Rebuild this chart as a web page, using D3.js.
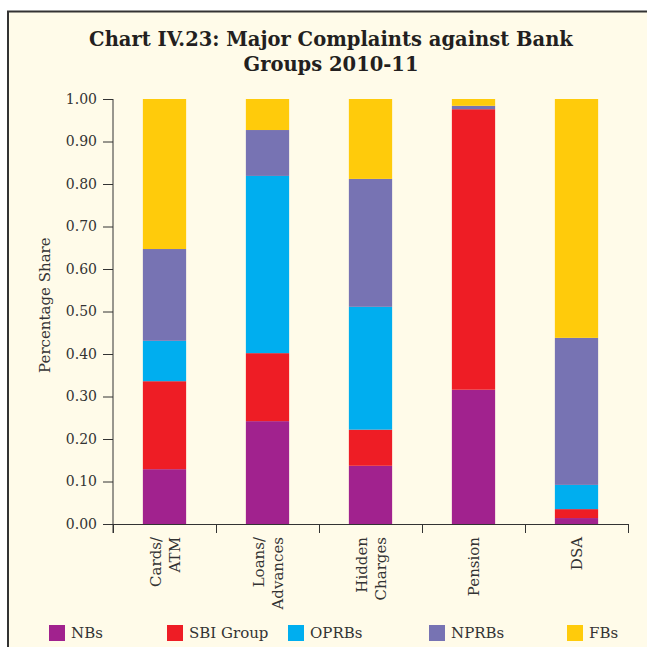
<!DOCTYPE html>
<html>
<head>
<meta charset="utf-8">
<script src="https://cdn.jsdelivr.net/npm/d3@7"></script>
<style>
  html, body { margin: 0; padding: 0; background: #fff; }
  svg { display: block; }
  text { font-family: "DejaVu Serif", serif; fill: #333; }
</style>
</head>
<body>
<div id="chart"></div>
<script>
// categories (two-line labels split with |)
var categories = ['Cards/|ATM', 'Loans/|Advances', 'Hidden|Charges', 'Pension', 'DSA'];

// share of complaints by bank group
var nbs      = [0.129, 0.242, 0.137, 0.316, 0.014];
var sbi      = [0.207, 0.160, 0.085, 0.660, 0.021];
var oprbs    = [0.095, 0.417, 0.289, 0.000, 0.057];
var nprbs    = [0.216, 0.108, 0.301, 0.008, 0.346];
var fbs      = [0.353, 0.073, 0.188, 0.016, 0.562];

var seriesNames = ['NBs', 'SBI Group', 'OPRBs', 'NPRBs', 'FBs'];
var seriesColors = ['#a1228e', '#ee1d25', '#00aeef', '#7773b3', '#ffcb0b'];

var yTicks = [0, 0.1, 0.2, 0.3, 0.4, 0.5, 0.6, 0.7, 0.8, 0.9, 1.0];

var width = 647, height = 647;
var pad = { left: 113, right: 19, top: 99, bottom: 123 };

var svg = d3.select('#chart')
  .append('svg')
  .attr('width', width)
  .attr('height', height);

// frame
svg.append('rect')
  .attr('x', 8)
  .attr('y', 11.5)
  .attr('width', 700)
  .attr('height', 700)
  .attr('fill', '#fffbe9')
  .attr('stroke', '#333')
  .attr('stroke-width', 2);

// title
var title = svg.append('text')
  .attr('text-anchor', 'middle')
  .style('font-weight', 'bold')
  .style('font-size', '19.5px')
  .style('fill', '#231f20');
title.append('tspan').attr('x', 331).attr('y', 46).text('Chart IV.23: Major Complaints against Bank');
title.append('tspan').attr('x', 331).attr('y', 71).text('Groups 2010-11');

var table = categories.map(function(c, i){
  return { cat: c, NBs: nbs[i], 'SBI Group': sbi[i], OPRBs: oprbs[i], NPRBs: nprbs[i], FBs: fbs[i] };
});

var x_scale = d3.scaleBand()
  .domain(categories)
  .range([pad.left, width - pad.right])
  .paddingInner(0.58)
  .paddingOuter(0.29);

var y_scale = d3.scaleLinear()
  .domain([0, 1])
  .range([height - pad.bottom, pad.top]);

var color = d3.scaleOrdinal().domain(seriesNames).range(seriesColors);

var stacked = d3.stack().keys(seriesNames)(table);

svg.append('g')
  .selectAll('g')
  .data(stacked)
  .enter()
  .append('g')
  .attr('fill', function(d){ return color(d.key); })
  .selectAll('rect')
  .data(function(d){ return d; })
  .enter()
  .append('rect')
  .attr('x', function(d){ return x_scale(d.data.cat); })
  .attr('width', x_scale.bandwidth())
  .attr('y', function(d){ return y_scale(d[1]); })
  .attr('height', function(d){ return y_scale(d[0]) - y_scale(d[1]); });

// y axis
var yAxis = svg.append('g')
  .attr('transform', 'translate(' + pad.left + ',0)')
  .call(d3.axisLeft(y_scale).tickValues(yTicks).tickFormat(d3.format('.2f')).tickSize(10).tickPadding(6));
yAxis.select('.domain').remove();
yAxis.append('line')
  .attr('x1', 0).attr('x2', 0)
  .attr('y1', y_scale(1)).attr('y2', y_scale(0) + 9)
  .attr('stroke', '#333');
yAxis.selectAll('.tick line').attr('stroke', '#333');
yAxis.selectAll('.tick text')
  .style('font-family', '"DejaVu Serif", serif')
  .style('font-size', '14px')
  .style('fill', '#333');

// x axis: ticks at category boundaries
var edge_scale = d3.scaleLinear()
  .domain([0, categories.length])
  .range([pad.left, width - pad.right]);

var xAxis = svg.append('g')
  .attr('transform', 'translate(0,' + y_scale(0) + ')')
  .call(d3.axisBottom(edge_scale).tickValues(d3.range(categories.length + 1)).tickFormat('').tickSize(9).tickSizeOuter(0));
xAxis.selectAll('line, path').attr('stroke', '#333');

var labels = svg.append('g')
  .selectAll('text')
  .data(categories)
  .enter()
  .append('text')
  .attr('text-anchor', 'end')
  .style('font-size', '15px')
  .attr('transform', function(d){
    return 'translate(' + (x_scale(d) + x_scale.bandwidth() / 2) + ',' + (y_scale(0) + 13) + ') rotate(-90)';
  });

labels.each(function(d){
  var lines = d.split('|');
  var el = d3.select(this);
  lines.forEach(function(line, i){
    var off = (i - (lines.length - 1) / 2) * 19 + 5.5;
    el.append('tspan').attr('x', 0).attr('y', off).text(line);
  });
});

// y axis title
svg.append('text')
  .attr('text-anchor', 'middle')
  .style('font-size', '15px')
  .attr('transform', 'translate(50,' + y_scale(0.515) + ') rotate(-90)')
  .text('Percentage Share');

// legend
var legendX = [49, 167, 288, 429, 567];
var legend = svg.append('g')
  .selectAll('g')
  .data(seriesNames)
  .enter()
  .append('g')
  .attr('transform', function(d, i){ return 'translate(' + legendX[i] + ',625)'; });

legend.append('rect')
  .attr('width', 16)
  .attr('height', 16)
  .attr('fill', function(d){ return color(d); });

legend.append('text')
  .attr('x', 22)
  .attr('y', 13)
  .style('font-size', '15px')
  .text(function(d){ return d; });
</script>
</body>
</html>
